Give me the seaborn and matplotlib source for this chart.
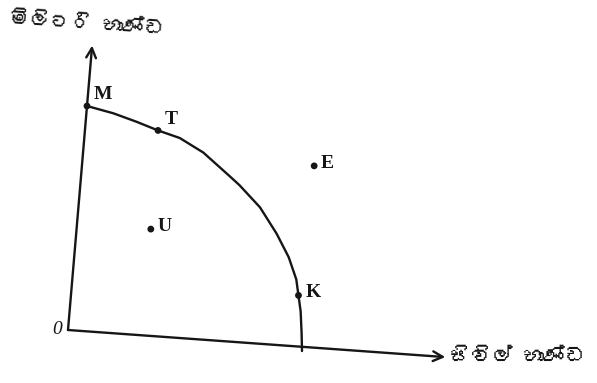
import matplotlib
matplotlib.use("Agg")
import matplotlib.pyplot as plt
import matplotlib.font_manager as fm
from matplotlib.ft2font import FT2Font
from matplotlib.transforms import Affine2D
import seaborn as sns

# Production possibility frontier (civil goods vs military goods)
ppf_x = [0, 1.15, 2.15, 3.1, 4.05, 5.1, 6.25, 6.75, 7.7, 8.5, 9.1, 9.5, 9.65, 9.8, 9.92, 10.0]
ppf_y = [10, 9.78, 9.5, 9.2, 8.95, 8.4, 7.5, 7.1, 6.2, 5.1, 4.1, 3.15, 2.45, 1.75, 0.78, 0]

point_names = ["M", "T", "E", "U", "K"]
point_x = [0, 3.1, 9.85, 3.15, 9.65]
point_y = [10, 9.2, 8.25, 4.8, 2.45]

x_label = "සිවිල් භාණ්ඩ"
y_label = "මිලිටරි භාණ්ඩ"


def font_with(ch):
    for f in fm.fontManager.ttflist:
        try:
            if ord(ch) in FT2Font(f.fname).get_charmap():
                return f.name
        except Exception:
            pass
    return None


sns.set_style("white")
sin_font = font_with("ස")
label_family = [sin_font, "DejaVu Sans"] if sin_font else ["DejaVu Sans"]

fig = plt.figure(figsize=(5.97, 3.83), dpi=100)
ax = fig.add_axes([0, 0, 1, 1])
ax.set_xlim(0, 597)
ax.set_ylim(383, 0)
ax.axis("off")

# the scanned diagram is slightly skewed: map data units onto the page
tr = Affine2D.from_values(23.4, 2.1, 1.9, -22.4, 68, 330) + ax.transData

ink = "#161616"
arrow = dict(arrowstyle="->,head_length=0.7,head_width=0.35", lw=1.7, color=ink,
             shrinkA=0, shrinkB=0)
ax.annotate("", xy=(16.1, 0.3), xytext=(0, 0), xycoords=tr, textcoords=tr, arrowprops=arrow)
ax.annotate("", xy=(0, 12.7), xytext=(0, 0), xycoords=tr, textcoords=tr, arrowprops=arrow)

sns.lineplot(x=ppf_x, y=ppf_y, sort=False, color=ink, lw=1.7, transform=tr, ax=ax)
sns.scatterplot(x=point_x, y=point_y, color=ink, s=24, edgecolor="none",
                transform=tr, ax=ax, zorder=3)

for name, px, py in zip(point_names, point_x, point_y):
    ax.annotate(name, (px, py), xycoords=tr, xytext=(5, 2), textcoords="offset points",
                ha="left", va="bottom" if name in "MT" else "center",
                fontsize=14, fontfamily="Liberation Serif", fontweight="bold", color=ink)

ax.annotate("0", (0, 0), xycoords=tr, xytext=(-4, 0), textcoords="offset points",
            ha="right", va="center", fontsize=14, fontfamily="Liberation Serif",
            style="italic", color=ink)

ax.text(8, 24, y_label, ha="left", va="center", rotation=-4, fontsize=15,
        family=label_family, fontweight="bold", color=ink)
ax.text(450, 357, x_label, ha="left", va="center", fontsize=15,
        family=label_family, fontweight="bold", color=ink)

fig.savefig("out.png", dpi=100)
